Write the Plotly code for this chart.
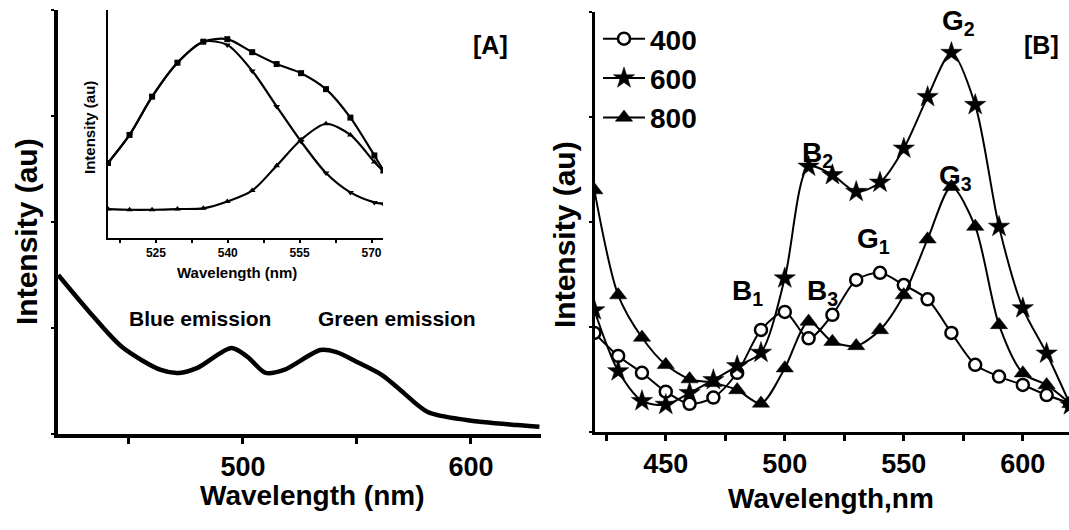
import plotly.graph_objects as go

# ---------- Panel A: emission spectrum ----------
a_wl = [419, 432, 447, 464, 472, 480, 495, 502, 510, 518, 534, 541, 550, 561, 569, 581, 598, 620, 630]
a_int = [37.5, 29.2, 20.5, 15.1, 14.4, 15.6, 20.3, 18.2, 14.4, 15.1, 19.8, 19.3, 17.0, 13.9, 10.4, 5.2, 3.3, 2.1, 1.7]
a_ticks = [500, 600]
a_minor = [450, 550]

# ---------- Inset: green band deconvolution ----------
in_wl = [515, 519.5, 524.2, 529.5, 534.9, 539.9, 545.1, 550.2, 555.3, 560.5, 565.6, 570.6, 572.5]
in_total = [0.329, 0.452, 0.620, 0.769, 0.861, 0.872, 0.815, 0.763, 0.723, 0.653, 0.528, 0.362, 0.296]
in_comp1 = [0.329, 0.452, 0.620, 0.769, 0.861, 0.847, 0.733, 0.577, 0.423, 0.285, 0.200, 0.156, 0.149]
in_comp2 = [0.127, 0.124, 0.124, 0.127, 0.130, 0.160, 0.208, 0.317, 0.431, 0.501, 0.452, 0.333, 0.292]
in_ticks = [525, 540, 555, 570]
in_minor = [517.5, 532.5, 547.5, 562.5]

# ---------- Panel B: spectra at three temperatures ----------
b_wl = [420, 430, 440, 450, 460, 470, 480, 490, 500, 510, 520, 530, 540, 550, 560, 570, 580, 590, 600, 610, 620]
b_400 = [23.6, 18.1, 14.1, 9.6, 6.7, 8.2, 14.1, 24.3, 28.6, 22.3, 27.9, 36.2, 37.9, 35.0, 31.6, 23.6, 16.0, 13.2, 11.2, 8.8, 6.8]
b_600 = [29.0, 14.5, 7.4, 6.5, 9.3, 12.4, 15.7, 18.9, 36.6, 63.2, 61.2, 57.2, 59.4, 67.5, 79.8, 90.3, 77.9, 48.9, 29.5, 18.7, 6.4]
b_800 = [57.6, 32.6, 22.5, 16.0, 12.6, 11.7, 10.0, 6.8, 15.2, 26.3, 21.5, 20.5, 24.3, 32.6, 45.9, 58.4, 48.9, 25.5, 14.0, 11.2, 6.7]
b_names = ["400", "600", "800"]
b_ticks = [450, 500, 550, 600]
b_minor = [425, 475, 525, 575]

W, H = 1069, 530
FONT = "Arial, Liberation Sans, sans-serif"


def px(x):
    return x / W


def py(y):
    return (H - y) / H


fig = go.Figure()

fig.add_trace(go.Scatter(x=a_wl, y=a_int, mode="lines", line=dict(color="black", width=4.5, shape="spline", smoothing=0.8),
                         xaxis="x", yaxis="y", showlegend=False, hoverinfo="skip"))

inset_style = [(in_total, "square"), (in_comp1, "triangle-down"), (in_comp2, "triangle-up")]
for vals, sym in inset_style:
    fig.add_trace(go.Scatter(x=in_wl, y=vals, mode="lines+markers",
                             line=dict(color="black", width=2.2, shape="spline", smoothing=0.8),
                             marker=dict(symbol=sym, size=6, color="black"),
                             xaxis="x2", yaxis="y2", showlegend=False, hoverinfo="skip"))

b_styles = [
    dict(symbol="circle", size=12, color="white", line=dict(color="black", width=2.5)),
    dict(symbol="star", size=16, color="black", line=dict(color="black", width=0.5)),
    dict(symbol="triangle-up", size=15, color="black", line=dict(color="black", width=0.5)),
]
for name, vals, mk in zip(b_names, [b_400, b_600, b_800], b_styles):
    fig.add_trace(go.Scatter(x=b_wl, y=vals, mode="lines+markers", name=name,
                             line=dict(color="black", width=2, shape="spline", smoothing=0.8),
                             marker=mk, xaxis="x3", yaxis="y3", cliponaxis=True))

axis_common = dict(showline=True, linecolor="black", showgrid=False, zeroline=False,
                   ticks="outside", tickcolor="black", mirror=False)

fig.update_layout(
    width=W, height=H,
    margin=dict(l=0, r=0, t=0, b=0),
    paper_bgcolor="white", plot_bgcolor="rgba(0,0,0,0)",
    font=dict(family=FONT, color="black"),
    xaxis=dict(axis_common, domain=[px(58), px(541)], range=[418.9, 630.7], anchor="y",
               linewidth=4, tickvals=a_ticks, ticklen=6, tickwidth=2.5,
               minor=dict(tickvals=a_minor, ticks="outside", ticklen=6, tickwidth=2.5, tickcolor="black", showgrid=False),
               tickfont=dict(size=27, family=FONT, weight="bold")),
    yaxis=dict(axis_common, domain=[py(434), py(10)], range=[0, 100], anchor="x",
               linewidth=4, showticklabels=False, ticklen=3, tickwidth=1.5, dtick=25),
    xaxis2=dict(axis_common, domain=[px(108), px(383)], range=[515, 572.4], anchor="y2",
                linewidth=2, tickvals=in_ticks, ticklen=3, tickwidth=1.5,
                minor=dict(tickvals=in_minor, ticks="outside", ticklen=3, tickwidth=1.5, tickcolor="black", showgrid=False),
                tickfont=dict(size=12, family=FONT, weight="bold")),
    yaxis2=dict(axis_common, domain=[py(238), py(10)], range=[0, 1], anchor="x2",
                linewidth=2, showticklabels=False, ticks=""),
    xaxis3=dict(axis_common, domain=[px(594.6), 1.0], range=[420.1, 619.4], anchor="y3",
                linewidth=3, tickvals=b_ticks, ticklen=6, tickwidth=2.5,
                minor=dict(tickvals=b_minor, ticks="outside", ticklen=6, tickwidth=2.5, tickcolor="black", showgrid=False),
                tickfont=dict(size=27, family=FONT, weight="bold")),
    yaxis3=dict(axis_common, domain=[py(432), py(12)], range=[0, 100], anchor="x3",
                linewidth=3, showticklabels=False, ticklen=3, tickwidth=1.5, dtick=25),
    legend=dict(x=px(598), y=py(14), xanchor="left", yanchor="top", bgcolor="rgba(0,0,0,0)",
                font=dict(size=28, family=FONT, weight="bold"), itemwidth=42, tracegroupgap=0),
)

annotations = [
    # axis titles
    dict(text="Wavelength (nm)", x=px(312), y=py(495), size=28),
    dict(text="Wavelength,nm", x=px(831), y=py(498), size=28),
    dict(text="Intensity (au)", x=px(26), y=py(232), size=30, textangle=-90),
    dict(text="Intensity (au)", x=px(564), y=py(235), size=30, textangle=-90),
    # inset titles
    dict(text="Wavelength (nm)", x=px(237), y=py(272), size=15),
    dict(text="Intensity (au)", x=px(90), y=py(128), size=15, textangle=-90),
    # panel tags and band labels
    dict(text="[A]", x=px(490), y=py(45), size=25),
    dict(text="[B]", x=px(1041), y=py(45), size=25),
    dict(text="Blue emission", x=px(200), y=py(318), size=21),
    dict(text="Green emission", x=px(397), y=py(318), size=21),
]
ann = []
for a in annotations:
    ann.append(dict(text=a["text"], x=a["x"], y=a["y"], xref="paper", yref="paper",
                    showarrow=False, xanchor="center", yanchor="middle",
                    textangle=a.get("textangle", 0),
                    font=dict(size=a["size"], family=FONT, color="black", weight="bold")))

peak_labels = [("G", "2", 572.8, 97.6), ("B", "2", 513.9, 66.0), ("G", "3", 571.9, 60.7),
               ("G", "1", 537.4, 45.7), ("B", "1", 484.5, 33.3), ("B", "3", 516.0, 33.3)]
for letter, sub, lx, ly in peak_labels:
    ann.append(dict(text=f"{letter}<sub>{sub}</sub>", x=lx, y=ly, xref="x3", yref="y3",
                    showarrow=False, xanchor="center", yanchor="middle",
                    font=dict(size=28, family=FONT, color="black", weight="bold")))

fig.update_layout(annotations=ann)
fig.write_html("out.html")
